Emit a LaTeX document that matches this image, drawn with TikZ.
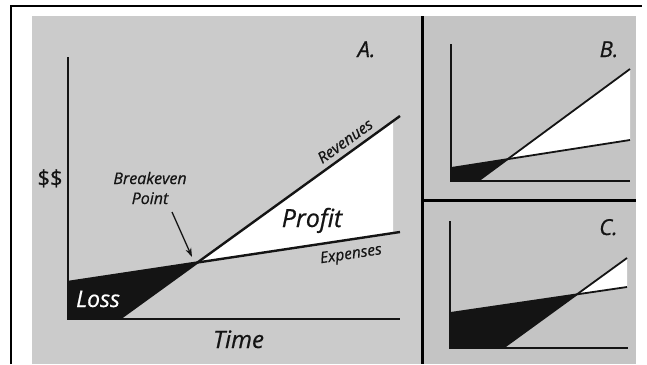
\documentclass[tikz,border=0pt]{standalone}
\usepackage{fontspec}
\setmainfont{Open Sans}
\newfontfamily\labfont{Open Sans}[FakeBold=0.6]
\usetikzlibrary{arrows.meta}
\definecolor{panelA}{HTML}{CBCBCB}
\definecolor{panelBC}{HTML}{C4C4C4}
\definecolor{ink}{HTML}{141414}
\tikzset{
  lbl/.style={inner sep=0pt, text=ink, font=\labfont\itshape\fontsize{#1}{#1}\selectfont},
  lbl/.default=16,
  axisA/.style={draw=ink, line width=2pt},
  lineA/.style={draw=ink, line width=2.4pt},
  axisS/.style={draw=ink, line width=1.2pt},
  lineS/.style={draw=ink, line width=1.8pt},
  lossfill/.style={fill=ink},
  proffill/.style={fill=white},
  divider/.style={draw=black, line width=3pt},
}
\begin{document}
\begin{tikzpicture}[x=1pt,y=-1pt]
\useasboundingbox (0,0) rectangle (647,364);
% frame and panels
\fill[white] (0,0) rectangle (647,364);
\fill[panelA] (32,16) rectangle (421,364);
\fill[panelBC] (423,16) rectangle (636,199);
\fill[panelBC] (423,201) rectangle (636,364);
\draw[black, line width=2pt] (11,364) -- (11,6) -- (642,6);
\draw[divider] (422,16) -- (422,364);
\draw[divider] (422,200) -- (636,200);

% ---------- Panel A ----------
\coordinate (aO) at (68,319);
\coordinate (aY) at (68,57);
\coordinate (aX) at (400,319);
\coordinate (aE1) at (68,282);
\coordinate (aE2) at (400,232);
\coordinate (aR1) at (120,318.5);
\coordinate (aR2) at (400,116);
\coordinate (aW1) at (393,0);
\coordinate (aW2) at (393,400);
\coordinate (aBE) at (intersection of aE1--aE2 and aR1--aR2);
\coordinate (aWR) at (intersection of aR1--aR2 and aW1--aW2);
\coordinate (aWE) at (intersection of aE1--aE2 and aW1--aW2);
\fill[lossfill] (aO) -- (aE1) -- (aBE) -- (aR1) -- cycle;
\fill[proffill] (aBE) -- (aWR) -- (aWE) -- cycle;
\draw[axisA] (aY) -- (aO) -- (aX);
\draw[lineA] (aE1) -- (aE2);
\draw[lineA] (aR1) -- (aR2);

\node[inner sep=0pt, text=ink, font=\labfont\fontsize{22}{22}\selectfont, anchor=base] (dollars) at (50,186) {\$\$};
\node[lbl=16, anchor=base] (breakeven) at (150,184) {Breakeven};
\node[lbl=16, anchor=base] (point) at (150,204) {Point};
\coordinate (arrS) at (172,212);
\coordinate (arrE) at (192,257);
\draw[draw=ink, line width=1.3pt, -{Stealth[length=9pt,width=6pt]}] (arrS) -- (arrE);
\node[lbl=15.5, rotate=35.8] (revenues) at (345,141) {Revenues};
\node[lbl=15.5, rotate=8.6] (expenses) at (351,255) {Expenses};
\node[lbl=25, anchor=base] (profit) at (312,227) {Profit};
\node[lbl=23, anchor=base, text=white] (loss) at (98,307) {Loss};
\node[lbl=24, anchor=base] (time) at (238.5,348) {Time};
\node[lbl=22, anchor=base] (labA) at (366.5,57) {A.};

% ---------- Panel B ----------
\coordinate (bO) at (451,181);
\coordinate (bY) at (451,44);
\coordinate (bX) at (630,181);
\coordinate (bE1) at (451,168);
\coordinate (bE2) at (630,140);
\coordinate (bR1) at (478,181);
\coordinate (bR2) at (630,69);
\coordinate (bBE) at (intersection of bE1--bE2 and bR1--bR2);
\fill[lossfill] (bO) -- (bE1) -- (bBE) -- (bR1) -- cycle;
\fill[proffill] (bBE) -- (bR2) -- (bE2) -- cycle;
\draw[axisS] (bY) -- (bO) -- (bX);
\draw[lineS] (bE1) -- (bE2);
\draw[lineS] (bR1) -- (bR2);
\node[lbl=22, anchor=base] (labB) at (609,57) {B.};

% ---------- Panel C ----------
\coordinate (cO) at (450,348);
\coordinate (cY) at (450,221);
\coordinate (cX) at (628,348);
\coordinate (cE1) at (450,313);
\coordinate (cE2) at (627,287);
\coordinate (cR1) at (503,348);
\coordinate (cR2) at (627,258);
\coordinate (cBE) at (intersection of cE1--cE2 and cR1--cR2);
\fill[lossfill] (cO) -- (cE1) -- (cBE) -- (cR1) -- cycle;
\fill[proffill] (cBE) -- (cR2) -- (cE2) -- cycle;
\draw[axisS] (cY) -- (cO) -- (cX);
\draw[lineS] (cE1) -- (cE2);
\draw[lineS] (cR1) -- (cR2);
\node[lbl=22, anchor=base] (labC) at (608.5,235) {C.};
\end{tikzpicture}
\end{document}
